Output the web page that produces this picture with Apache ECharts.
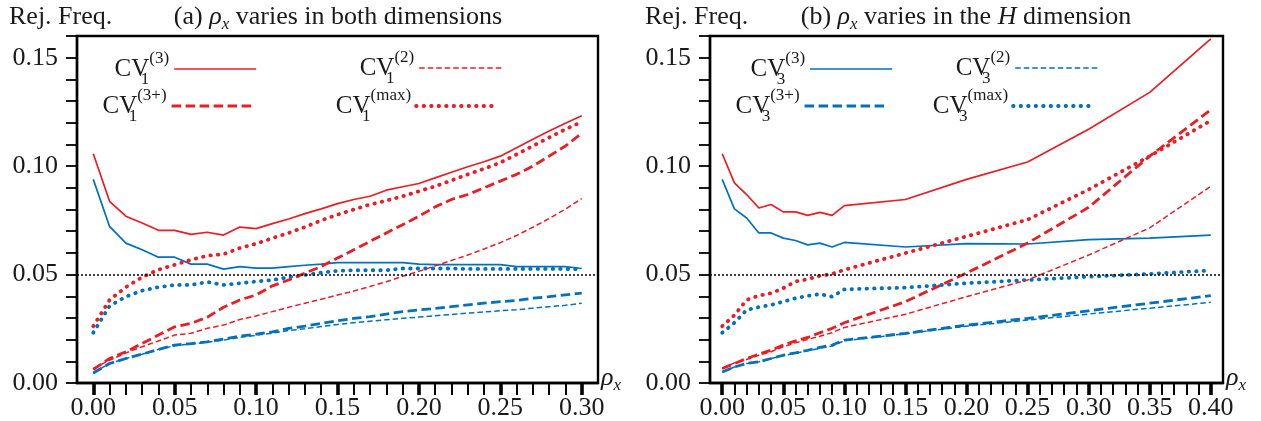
<!DOCTYPE html>
<html>
<head>
<meta charset="utf-8">
<script src="https://cdn.jsdelivr.net/npm/echarts@6/dist/echarts.min.js"></script>
<style>
html,body{margin:0;padding:0;background:#fff;}
#chart{width:1261px;height:421px;}
</style>
</head>
<body>
<div id="chart"></div>
<script>
// ---------------- data ----------------
const xA = [0,0.01,0.02,0.03,0.04,0.05,0.06,0.07,0.08,0.09,0.10,0.11,0.12,0.13,0.14,0.15,0.16,0.17,0.18,0.19,0.20,0.21,0.22,0.23,0.24,0.25,0.26,0.27,0.28,0.29,0.30];
const xB = [0,0.01,0.02,0.03,0.04,0.05,0.06,0.07,0.08,0.09,0.10,0.15,0.20,0.25,0.30,0.35,0.40];

// panel (a): rho_x varies in both dimensions
const aCV1_3   = [0.1057,0.0838,0.0769,0.0738,0.0704,0.0704,0.0685,0.0695,0.0682,0.0719,0.0712,0.0735,0.0756,0.0781,0.0803,0.0827,0.0846,0.0861,0.0889,0.0905,0.0920,0.0946,0.0972,0.0997,0.1020,0.1046,0.1085,0.1124,0.1162,0.1198,0.1232];
const aCV1_2   = [0.0067,0.0105,0.0139,0.0167,0.0194,0.0221,0.0229,0.0252,0.0267,0.0293,0.0309,0.0329,0.0349,0.0368,0.0386,0.0406,0.0424,0.0445,0.0467,0.0492,0.0515,0.0540,0.0565,0.0590,0.0618,0.0647,0.0680,0.0718,0.0758,0.0802,0.0850];
const aCV1_3p  = [0.0062,0.0113,0.0144,0.0182,0.0221,0.0259,0.0275,0.0303,0.0349,0.0383,0.0406,0.0448,0.0475,0.0507,0.0537,0.0576,0.0614,0.0653,0.0692,0.0730,0.0769,0.0812,0.0846,0.0869,0.0900,0.0931,0.0962,0.1000,0.1046,0.1093,0.1151];
const aCV1_max = [0.0262,0.0383,0.0442,0.0488,0.0522,0.0545,0.0568,0.0587,0.0594,0.0622,0.0642,0.0668,0.0692,0.0719,0.0750,0.0776,0.0800,0.0823,0.0841,0.0861,0.0884,0.0907,0.0934,0.0962,0.0988,0.1016,0.1054,0.1093,0.1132,0.1170,0.1204];
const aCV3_3   = [0.0939,0.0722,0.0645,0.0614,0.0580,0.0580,0.0548,0.0548,0.0525,0.0537,0.0530,0.0530,0.0537,0.0543,0.0548,0.0555,0.0555,0.0555,0.0555,0.0555,0.0548,0.0546,0.0546,0.0546,0.0546,0.0546,0.0537,0.0537,0.0537,0.0537,0.0528];
const aCV3_2   = [0.0046,0.0090,0.0113,0.0133,0.0155,0.0172,0.0180,0.0188,0.0198,0.0210,0.0220,0.0230,0.0242,0.0250,0.0260,0.0270,0.0278,0.0285,0.0292,0.0298,0.0304,0.0310,0.0316,0.0322,0.0328,0.0333,0.0338,0.0345,0.0352,0.0358,0.0368];
const aCV3_3p  = [0.0046,0.0090,0.0113,0.0133,0.0155,0.0175,0.0182,0.0190,0.0202,0.0216,0.0225,0.0236,0.0252,0.0262,0.0275,0.0287,0.0298,0.0306,0.0318,0.0329,0.0337,0.0344,0.0352,0.0360,0.0368,0.0375,0.0380,0.0391,0.0398,0.0406,0.0414];
const aCV3_max = [0.0232,0.0355,0.0398,0.0426,0.0442,0.0452,0.0452,0.0466,0.0452,0.0460,0.0468,0.0475,0.0488,0.0498,0.0509,0.0517,0.0520,0.0520,0.0520,0.0528,0.0528,0.0528,0.0528,0.0526,0.0526,0.0526,0.0526,0.0526,0.0526,0.0526,0.0524];

// panel (b): rho_x varies in the H dimension
const bCV1_3   = [0.1057,0.0923,0.0869,0.0807,0.0823,0.0789,0.0789,0.0773,0.0787,0.0773,0.0818,0.0846,0.0939,0.1019,0.1170,0.1340,0.1587];
const bCV1_2   = [0.0067,0.0093,0.0108,0.0128,0.0144,0.0167,0.0185,0.0201,0.0216,0.0232,0.0256,0.0317,0.0398,0.0475,0.0590,0.0715,0.0907];
const bCV1_3p  = [0.0067,0.0090,0.0113,0.0133,0.0151,0.0175,0.0194,0.0210,0.0232,0.0252,0.0278,0.0375,0.0507,0.0645,0.0810,0.1046,0.1260];
const bCV1_max = [0.0262,0.0313,0.0383,0.0403,0.0414,0.0437,0.0468,0.0479,0.0494,0.0503,0.0522,0.0599,0.0676,0.0753,0.0892,0.1046,0.1210];
const bCV3_3   = [0.0939,0.0803,0.0761,0.0692,0.0692,0.0668,0.0657,0.0637,0.0645,0.0627,0.0648,0.0627,0.0643,0.0641,0.0661,0.0668,0.0682];
const bCV3_2   = [0.0051,0.0074,0.0090,0.0098,0.0113,0.0126,0.0137,0.0149,0.0160,0.0170,0.0195,0.0227,0.0262,0.0290,0.0318,0.0345,0.0372];
const bCV3_3p  = [0.0051,0.0074,0.0090,0.0098,0.0113,0.0128,0.0139,0.0151,0.0164,0.0175,0.0198,0.0229,0.0267,0.0298,0.0333,0.0368,0.0403];
const bCV3_max = [0.0232,0.0278,0.0337,0.0350,0.0360,0.0375,0.0391,0.0402,0.0410,0.0398,0.0432,0.0440,0.0460,0.0475,0.0490,0.0503,0.0519];

// tick labels
const xLabelsA = [0,0.05,0.10,0.15,0.20,0.25,0.30];
const xLabelsB = [0,0.05,0.10,0.15,0.20,0.25,0.30,0.35,0.40];
const yLabels  = [0,0.05,0.10,0.15];
const refLevel = 0.05;

// ---------------- styling ----------------
const FONT = 'Liberation Serif, DejaVu Serif, serif';
const TXT = '#1a1a1a';
const RED = '#ec1c24';
const BLUE = '#0071bc';

function steps(max){ const r=[]; for(let i=0;i<=Math.round(max*100);i++) r.push(i/100); return r; }

const styles = {
  s3:  {width:1.7, type:'solid'},
  s2:  {width:1.5, type:[5.5,3]},
  s3p: {width:2.8, type:[9.5,4.5]},
  smax:{width:3.8, type:[0.5,7], cap:'round'}
};

const rich = {
  cv: {fontFamily:FONT, fontSize:25, lineHeight:38, verticalAlign:'middle', color:TXT},
  sb: {fontFamily:FONT, fontSize:17, lineHeight:21, verticalAlign:'bottom', width:0, color:TXT},
  sp: {fontFamily:FONT, fontSize:17, lineHeight:30, verticalAlign:'top', color:TXT},
  r:  {fontFamily:FONT, fontSize:26, fontStyle:'italic', color:TXT, lineHeight:32, verticalAlign:'middle'},
  xs: {fontFamily:FONT, fontSize:17, fontStyle:'italic', color:TXT, lineHeight:24, verticalAlign:'bottom'},
  n:  {fontFamily:FONT, fontSize:26, color:TXT, lineHeight:32, verticalAlign:'middle'}
};

const legendText = {
  'a_CV1_3':'{cv|CV}{sb|1}{sp|(3)}', 'a_CV1_2':'{cv|CV}{sb|1}{sp|(2)}',
  'a_CV1_3p':'{cv|CV}{sb|1}{sp|(3+)}', 'a_CV1_max':'{cv|CV}{sb|1}{sp|(max)}',
  'b_CV3_3':'{cv|CV}{sb|3}{sp|(3)}', 'b_CV3_2':'{cv|CV}{sb|3}{sp|(2)}',
  'b_CV3_3p':'{cv|CV}{sb|3}{sp|(3+)}', 'b_CV3_max':'{cv|CV}{sb|3}{sp|(max)}'
};

function mkSeries(name, xs, ys, color, st, xi, yi, withRef){
  const s = {
    name, type:'line', xAxisIndex:xi, yAxisIndex:yi,
    data: xs.map((x,i)=>[x, ys[i]]),
    symbol:'none', showSymbol:false, smooth:false,
    lineStyle:Object.assign({color:color}, st),
    itemStyle:{color:color},
    z:3
  };
  if (withRef) {
    s.markLine = {silent:true, symbol:'none', label:{show:false},
      lineStyle:{color:'#000', type:[2,2], width:1.5},
      data:[{yAxis:refLevel}]};
  }
  return s;
}

function xAxes(gi, maxv, labels){
  return [{
    type:'value', gridIndex:gi, position:'bottom', offset:0,
    min:-0.01, max:maxv+0.01,
    axisLine:{show:true, onZero:false, lineStyle:{color:'#000', width:2.4}},
    axisTick:{show:true, customValues:steps(maxv), length:12, inside:false, lineStyle:{color:'#000', width:2}},
    axisLabel:{show:true, customValues:labels, formatter:v=>v.toFixed(2), margin:12,
      fontFamily:FONT, fontSize:26, color:TXT},
    splitLine:{show:false},
    name:'{r|ρ}{xs|x}', nameLocation:'end', nameGap:3,
    nameTextStyle:{rich:rich, padding:[0,0,10,0]}
  },{
    type:'value', gridIndex:gi, position:'bottom', offset:0,
    min:-0.01, max:maxv+0.01,
    axisLine:{show:false},
    axisTick:{show:true, customValues:labels, length:12, inside:false, lineStyle:{color:'#000', width:3.6}},
    axisLabel:{show:false},
    splitLine:{show:false}
  }];
}

function yAxis(gi){
  return {
    type:'value', gridIndex:gi, min:0, max:0.16,
    axisLine:{show:true, onZero:false, lineStyle:{color:'#000', width:2.4}},
    axisTick:{show:true, customValues:steps(0.16), length:11, inside:false, lineStyle:{color:'#000', width:1.8}},
    axisLabel:{show:true, customValues:yLabels, formatter:v=>v.toFixed(2), margin:19,
      fontFamily:FONT, fontSize:26, color:TXT},
    splitLine:{show:false}
  };
}

function legendItem(name, right, top, color, st){
  return {
    data:[name], right:right, top:top, orient:'horizontal', align:'right',
    itemWidth:82, itemHeight:10, padding:0, selectedMode:false,
    formatter:n=>legendText[n],
    itemStyle:{opacity:0, borderWidth:0},
    lineStyle:Object.assign({color:color}, st),
    textStyle:{rich:rich, color:TXT, fontFamily:FONT}
  };
}

const titleStyle = {fontFamily:FONT, fontSize:26, fontWeight:'normal', color:TXT, rich:rich};

const option = {
  animation:false,
  backgroundColor:'#fff',
  textStyle:{fontFamily:FONT},
  title:[
    {text:'Rej. Freq.', left:9, top:4, padding:0, textStyle:titleStyle},
    {text:'{n|(a) }{r|ρ}{xs|x}{n| varies in both dimensions}', left:338, textAlign:'center', top:1, padding:0, textStyle:titleStyle},
    {text:'Rej. Freq.', left:645, top:4, padding:0, textStyle:titleStyle},
    {text:'{n|(b) }{r|ρ}{xs|x}{n| varies in the }{r|H}{n| dimension}', left:966, textAlign:'center', top:1, padding:0, textStyle:titleStyle}
  ],
  grid:[
    {left:77, right:663, top:36, bottom:38, show:true, borderColor:'#000', borderWidth:2.4, backgroundColor:'transparent'},
    {left:710, right:38, top:36, bottom:38, show:true, borderColor:'#000', borderWidth:2.4, backgroundColor:'transparent'}
  ],
  legend:[
    legendItem('a_CV1_3', 1004, 50, RED, styles.s3),
    legendItem('a_CV1_2', 759, 49, RED, styles.s2),
    legendItem('a_CV1_3p', 1006, 87, RED, styles.s3p),
    legendItem('a_CV1_max', 761, 87, RED, styles.smax),
    legendItem('b_CV3_3', 368, 50, BLUE, styles.s3),
    legendItem('b_CV3_2', 163, 49, BLUE, styles.s2),
    legendItem('b_CV3_3p', 373, 87, BLUE, styles.s3p),
    legendItem('b_CV3_max', 164, 87, BLUE, styles.smax)
  ],
  xAxis:[].concat(xAxes(0, 0.30, xLabelsA), xAxes(1, 0.40, xLabelsB)),
  yAxis:[yAxis(0), yAxis(1)],
  series:[
    mkSeries('a_CV3_2',   xA, aCV3_2,   BLUE, styles.s2,   0, 0, true),
    mkSeries('a_CV3_3p',  xA, aCV3_3p,  BLUE, styles.s3p,  0, 0),
    mkSeries('a_CV3_max', xA, aCV3_max, BLUE, styles.smax, 0, 0),
    mkSeries('a_CV3_3',   xA, aCV3_3,   BLUE, styles.s3,   0, 0),
    mkSeries('a_CV1_2',   xA, aCV1_2,   RED,  styles.s2,   0, 0),
    mkSeries('a_CV1_3p',  xA, aCV1_3p,  RED,  styles.s3p,  0, 0),
    mkSeries('a_CV1_max', xA, aCV1_max, RED,  styles.smax, 0, 0),
    mkSeries('a_CV1_3',   xA, aCV1_3,   RED,  styles.s3,   0, 0),

    mkSeries('b_CV3_2',   xB, bCV3_2,   BLUE, styles.s2,   2, 1, true),
    mkSeries('b_CV3_3p',  xB, bCV3_3p,  BLUE, styles.s3p,  2, 1),
    mkSeries('b_CV3_max', xB, bCV3_max, BLUE, styles.smax, 2, 1),
    mkSeries('b_CV3_3',   xB, bCV3_3,   BLUE, styles.s3,   2, 1),
    mkSeries('b_CV1_2',   xB, bCV1_2,   RED,  styles.s2,   2, 1),
    mkSeries('b_CV1_3p',  xB, bCV1_3p,  RED,  styles.s3p,  2, 1),
    mkSeries('b_CV1_max', xB, bCV1_max, RED,  styles.smax, 2, 1),
    mkSeries('b_CV1_3',   xB, bCV1_3,   RED,  styles.s3,   2, 1)
  ]
};

const chart = echarts.init(document.getElementById('chart'), null, {renderer:'canvas'});
chart.setOption(option);
</script>
</body>
</html>
